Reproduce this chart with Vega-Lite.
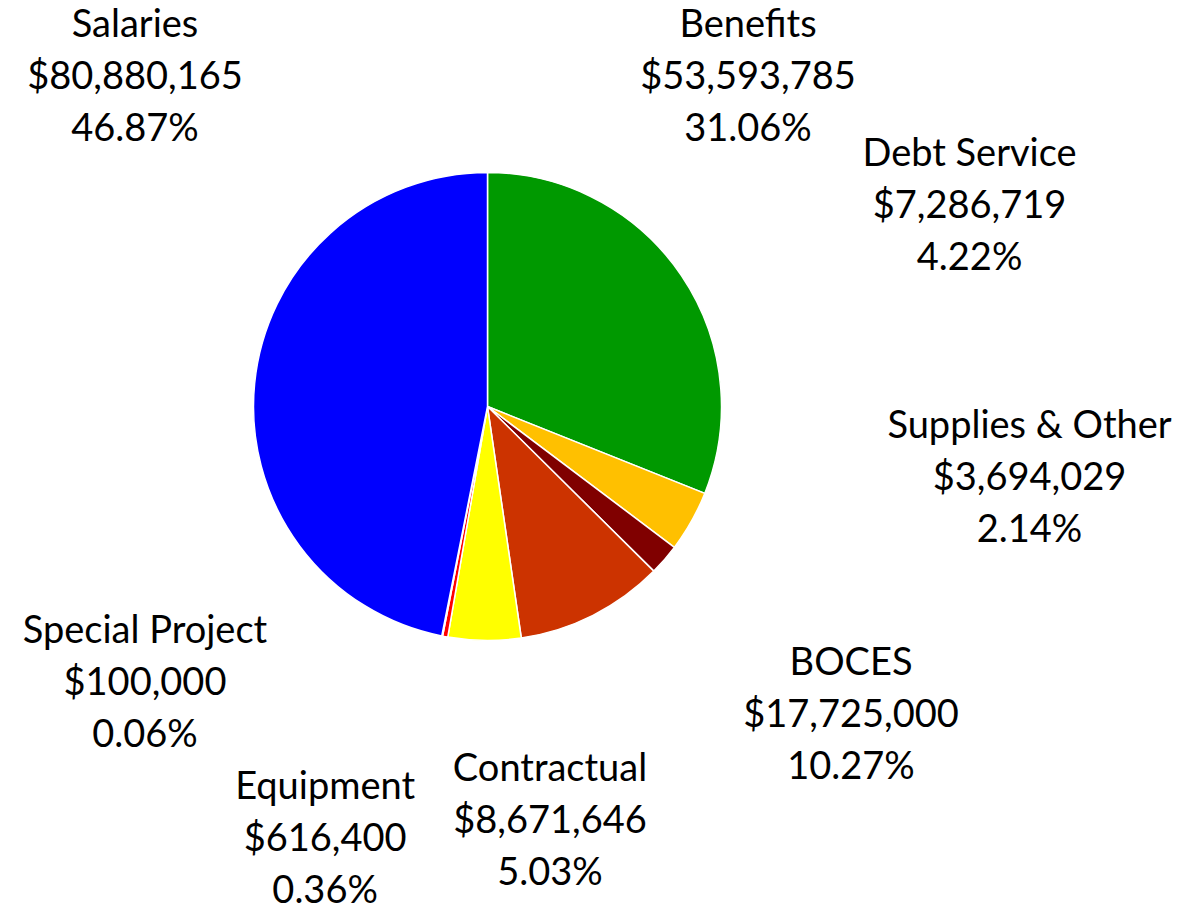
{
  "$schema": "https://vega.github.io/schema/vega-lite/v6.json",
  "width": 975,
  "height": 813,
  "autosize": {"type": "none"},
  "padding": {"left": 0, "top": 0, "right": 208, "bottom": 100},
  "background": "white",
  "config": {"view": {"stroke": null}},
  "data": {
    "values": [
      {"category": "Benefits", "amount": 53593785, "rank": 1},
      {"category": "Debt Service", "amount": 7286719, "rank": 2},
      {"category": "Supplies & Other", "amount": 3694029, "rank": 3},
      {"category": "BOCES", "amount": 17725000, "rank": 4},
      {"category": "Contractual", "amount": 8671646, "rank": 5},
      {"category": "Equipment", "amount": 616400, "rank": 6},
      {"category": "Special Project", "amount": 100000, "rank": 7},
      {"category": "Salaries", "amount": 80880165, "rank": 8}
    ]
  },
  "layer": [
    {
      "mark": {"type": "arc", "outerRadius": 234, "stroke": "white", "strokeWidth": 1.5},
      "encoding": {
        "theta": {"field": "amount", "type": "quantitative", "stack": true},
        "order": {"field": "rank", "type": "quantitative", "sort": "ascending"},
        "color": {
          "field": "category",
          "type": "nominal",
          "legend": null,
          "scale": {
            "domain": ["Benefits", "Debt Service", "Supplies & Other", "BOCES", "Contractual", "Equipment", "Special Project", "Salaries"],
            "range": ["#009900", "#FFC000", "#800000", "#CC3300", "#FFFF00", "#FF0000", "#FF99CC", "#0000FF"]
          }
        }
      }
    },
    {
      "transform": [
        {"joinaggregate": [{"op": "sum", "field": "amount", "as": "total"}]},
        {"calculate": "datum.category + '\\n$' + format(datum.amount, ',') + '\\n' + format(datum.amount / datum.total, '.2%')", "as": "label"}
      ],
      "mark": {
        "type": "text",
        "font": "Lato",
        "fontSize": 38,
        "lineHeight": 52,
        "lineBreak": "\n",
        "align": "center",
        "baseline": "middle",
        "color": "black"
      },
      "encoding": {
        "theta": {
          "field": "rank",
          "type": "quantitative",
          "stack": null,
          "scale": {
            "type": "linear",
            "domain": [1, 2, 3, 4, 5, 6, 7, 8],
            "range": [0.6004, 1.0900, 1.6087, 2.1871, 2.9713, 3.5441, 4.1301, 5.5360],
            "zero": false,
            "nice": false
          }
        },
        "radius": {
          "field": "rank",
          "type": "quantitative",
          "scale": {
            "type": "linear",
            "domain": [1, 2, 3, 4, 5, 6, 7, 8],
            "range": [461.1, 543.7, 542.4, 445.5, 368.8, 414.5, 410.1, 518.7],
            "zero": false,
            "nice": false
          }
        },
        "text": {"field": "label", "type": "nominal"}
      }
    }
  ],
  "resolve": {"scale": {"theta": "independent", "radius": "independent"}}
}
